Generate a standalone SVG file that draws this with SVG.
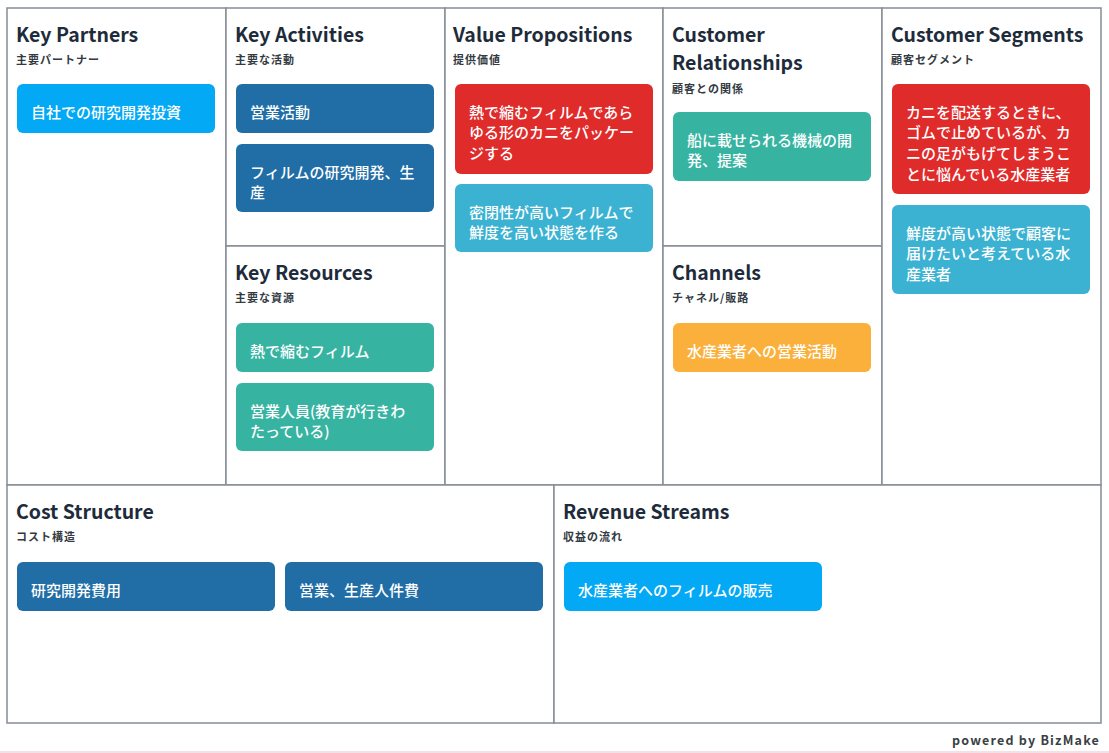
<svg xmlns="http://www.w3.org/2000/svg" width="1109" height="753" viewBox="0 0 1109 753">
<style>
.cell{fill:#ffffff;stroke:#868d96;stroke-width:1.5}
.hd{font-family:"Noto Sans CJK JP","Noto Sans",sans-serif;font-weight:700;font-size:19.5px;fill:#1e2b3a}
.sub{font-family:"Noto Sans CJK JP",sans-serif;font-weight:700;font-size:11px;letter-spacing:1px;fill:#333a42}
.ct{font-family:"Noto Sans CJK JP",sans-serif;font-weight:500;font-size:15px;fill:#ffffff}
.lb{fill:#03a9f4}.db{fill:#216ea6}.rd{fill:#e02b2b}.tl{fill:#3cb2d2}.gr{fill:#37b3a2}.or{fill:#fab03b}
.ft{font-family:"Noto Sans CJK JP","Noto Sans",sans-serif;font-weight:700;font-size:12.5px;fill:#3a3f45;letter-spacing:1.2px}
</style>
<rect width="1109" height="753" fill="#ffffff"/>
<g id="key-partners">
<rect class="cell" x="7" y="8" width="219" height="477"/>
<text class="hd" x="16" y="42">Key Partners</text>
<text class="sub" x="16" y="64">主要パートナー</text>
<rect class="lb" x="17" y="84" width="198" height="49" rx="6"/>
<text class="ct" x="31" y="117.5">自社での研究開発投資</text>
</g>
<g id="key-activities">
<rect class="cell" x="226" y="8" width="219" height="238"/>
<text class="hd" x="235" y="42">Key Activities</text>
<text class="sub" x="235" y="64">主要な活動</text>
<rect class="db" x="236" y="84" width="198" height="49" rx="6"/>
<text class="ct" x="250" y="117.5">営業活動</text>
<rect class="db" x="236" y="144" width="198" height="68" rx="6"/>
<text class="ct" x="250" y="177.5">フィルムの研究開発、生</text>
<text class="ct" x="250" y="198.2">産</text>
</g>
<g id="key-resources">
<rect class="cell" x="226" y="246" width="219" height="239"/>
<text class="hd" x="235" y="280">Key Resources</text>
<text class="sub" x="235" y="302">主要な資源</text>
<rect class="gr" x="236" y="323" width="198" height="49" rx="6"/>
<text class="ct" x="250" y="356.5">熱で縮むフィルム</text>
<rect class="gr" x="236" y="383" width="198" height="68" rx="6"/>
<text class="ct" x="250" y="416.5">営業人員(教育が行きわ</text>
<text class="ct" x="250" y="437.2">たっている)</text>
</g>
<g id="value-propositions">
<rect class="cell" x="445" y="8" width="218" height="477"/>
<text class="hd" x="453" y="42">Value Propositions</text>
<text class="sub" x="453" y="64">提供価値</text>
<rect class="rd" x="455" y="84" width="198" height="90" rx="6"/>
<text class="ct" x="469" y="117.5">熱で縮むフィルムであら</text>
<text class="ct" x="469" y="138.2">ゆる形のカニをパッケー</text>
<text class="ct" x="469" y="158.9">ジする</text>
<rect class="tl" x="455" y="184" width="198" height="68" rx="6"/>
<text class="ct" x="469" y="217.5">密閉性が高いフィルムで</text>
<text class="ct" x="469" y="238.2">鮮度を高い状態を作る</text>
</g>
<g id="customer-relationships">
<rect class="cell" x="663" y="8" width="219" height="238"/>
<text class="hd" x="672" y="42">Customer</text>
<text class="hd" x="672" y="70">Relationships</text>
<text class="sub" x="672" y="93">顧客との関係</text>
<rect class="gr" x="673" y="112" width="198" height="69" rx="6"/>
<text class="ct" x="687" y="145.5">船に載せられる機械の開</text>
<text class="ct" x="687" y="166.2">発、提案</text>
</g>
<g id="channels">
<rect class="cell" x="663" y="246" width="219" height="239"/>
<text class="hd" x="672" y="280">Channels</text>
<text class="sub" x="672" y="302">チャネル/販路</text>
<rect class="or" x="673" y="323" width="198" height="49" rx="6"/>
<text class="ct" x="687" y="356.5">水産業者への営業活動</text>
</g>
<g id="customer-segments">
<rect class="cell" x="882" y="8" width="219" height="477"/>
<text class="hd" x="891" y="42">Customer Segments</text>
<text class="sub" x="891" y="64">顧客セグメント</text>
<rect class="rd" x="892" y="84" width="198" height="110" rx="6"/>
<text class="ct" x="906" y="117.5">カニを配送するときに、</text>
<text class="ct" x="906" y="138.2">ゴムで止めているが、カ</text>
<text class="ct" x="906" y="158.9">ニの足がもげてしまうこ</text>
<text class="ct" x="906" y="179.6">とに悩んでいる水産業者</text>
<rect class="tl" x="892" y="205" width="198" height="89" rx="6"/>
<text class="ct" x="906" y="238.5">鮮度が高い状態で顧客に</text>
<text class="ct" x="906" y="259.2">届けたいと考えている水</text>
<text class="ct" x="906" y="279.9">産業者</text>
</g>
<g id="cost-structure">
<rect class="cell" x="7" y="485" width="547" height="238"/>
<text class="hd" x="16" y="519">Cost Structure</text>
<text class="sub" x="16" y="541">コスト構造</text>
<rect class="db" x="17" y="562" width="258" height="49" rx="6"/>
<text class="ct" x="31" y="595.5">研究開発費用</text>
<rect class="db" x="285" y="562" width="258" height="49" rx="6"/>
<text class="ct" x="299" y="595.5">営業、生産人件費</text>
</g>
<g id="revenue-streams">
<rect class="cell" x="554" y="485" width="547" height="238"/>
<text class="hd" x="563" y="519">Revenue Streams</text>
<text class="sub" x="563" y="541">収益の流れ</text>
<rect class="lb" x="564" y="562" width="258" height="49" rx="6"/>
<text class="ct" x="578" y="595.5">水産業者へのフィルムの販売</text>
</g>
<g id="connectors"></g>
<text class="ft" x="1100" y="745" text-anchor="end">powered by BizMake</text>
<line x1="0" y1="752" x2="1109" y2="752" stroke="#f2d6e0" stroke-width="1.5"/>
</svg>
